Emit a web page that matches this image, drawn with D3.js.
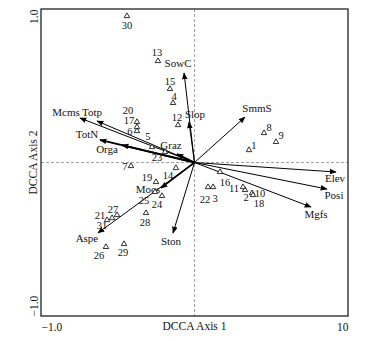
<!DOCTYPE html>
<html><head><meta charset="utf-8">
<script src="https://cdn.jsdelivr.net/npm/d3@7"></script>
<style>body{margin:0;background:#fff}svg{display:block}text{font-family:"Liberation Serif","Times New Roman",serif;fill:#111}</style>
</head><body><svg id="c" width="373" height="340" font-family="Liberation Serif"></svg>
<script>
// ---- data ----
const siteIds = ["1","2","3","4","5","6","7","8","9","10","11","12","13","14","15","16","17","18","19","20","21","22","23","24","25","26","27","28","29","30","31"];
const siteX = [0.355,0.329,0.121,-0.140,-0.277,-0.375,-0.414,0.453,0.531,0.375,0.316,-0.107,-0.238,-0.121,-0.160,0.166,-0.375,0.381,-0.251,-0.375,-0.537,0.088,-0.192,-0.212,-0.257,-0.577,-0.505,-0.316,-0.459,-0.440,-0.570];
const siteY = [0.081,-0.179,-0.160,0.388,0.101,0.205,-0.023,0.192,0.134,-0.199,-0.160,0.244,0.661,-0.036,0.479,-0.062,0.231,-0.212,-0.127,0.264,-0.362,-0.160,0.068,-0.218,-0.192,-0.550,-0.342,-0.329,-0.531,0.954,-0.375];
const envNames = ["Mcms","Totp","TotN","Orga","Graz","SowC","Slop","SmmS","Elev","Posi","Mgfs","Ston","Aspe","Mocs"];
const envX = [-0.746,-0.635,-0.616,-0.472,-0.114,-0.068,-0.036,0.329,0.922,0.863,0.759,-0.140,-0.629,-0.218];
const envY = [0.290,0.270,0.147,0.114,0.055,0.583,0.264,0.296,-0.062,-0.173,-0.290,-0.459,-0.459,-0.166];
const xTickValues = [-1, 1];
const xTickLabels = ["\u22121.0", "10"];
const yTickValues = [-1, 1];
const yTickLabels = ["\u22121.0", "1.0"];
const xTitle = "DCCA Axis 1";
const yTitle = "DCCA Axis 2";

// ---- layout (label nudges, px) ----
const siteLabelOff = [[5,-5],[1,7],[2,11],[1,-7],[-4,-11],[-7,0],[-6,0],[5,-6],[5,-7],[8,0],[-9,1],[-1,-8],[-1,-9],[-8,7],[0,-8],[5,10],[-8,-7],[6,8],[-9,-5],[-9,-12],[-12,-3],[-3,12],[-8,5],[-5,8],[-11,8],[-7,8],[-4,-6],[-1,9],[-1,8],[0,9],[-5,5]];
const envLabelOff = [[-14,-6],[-5,-9],[-13,-6],[-15,4],[-6,-9],[-6,-10],[6,-8],[12,-9],[-1,6],[7,6],[5,7],[-2,8],[-11,5],[-13,1.5]];
const envThick = [1,1,1.8,1.8,1.8,1,1,1,1,1,1,1,1,1.6];

const svg = d3.select("#c");
const L=41,R=348,T=9,B=316;
const x = d3.scaleLinear().domain([-1,1]).range([L,R]);
const y = d3.scaleLinear().domain([-1,1]).range([B,T]);

svg.append("defs").append("marker").attr("id","ah")
  .attr("viewBox","0 0 10 10").attr("refX",9).attr("refY",5)
  .attr("markerUnits","userSpaceOnUse").attr("markerWidth",7).attr("markerHeight",7)
  .attr("orient","auto")
  .append("path").attr("d","M0,1 L10,5 L0,9 Z").attr("fill","#000");

// dashed zero lines
svg.append("line").attr("x1",x(0)).attr("x2",x(0)).attr("y1",T).attr("y2",B)
  .attr("stroke","#888").attr("stroke-width",0.8).attr("stroke-dasharray","3,2");
svg.append("line").attr("x1",L).attr("x2",R).attr("y1",y(0)).attr("y2",y(0))
  .attr("stroke","#888").attr("stroke-width",0.8).attr("stroke-dasharray","3,2");

// frame
svg.append("rect").attr("x",L).attr("y",T).attr("width",R-L).attr("height",B-T)
  .attr("fill","none").attr("stroke","#222").attr("stroke-width",1.3);

// axes (labels only)
const ax = svg.append("g").attr("transform",`translate(0,${B})`)
  .call(d3.axisBottom(x).tickValues(xTickValues).tickSize(0).tickPadding(7)
    .tickFormat((d,i)=>xTickLabels[i]));
ax.attr("font-family",null);
ax.select(".domain").remove();
ax.selectAll("text").attr("font-size",11.5).attr("fill","#111")
  .attr("text-anchor",(d,i)=> i===0 ? "start":"end");

const ay = svg.append("g").attr("transform",`translate(${L},0)`)
  .call(d3.axisLeft(y).tickValues(yTickValues).tickSize(0).tickPadding(0)
    .tickFormat((d,i)=>yTickLabels[i]));
ay.attr("font-family",null);
ay.select(".domain").remove();
ay.selectAll("text").attr("font-size",11.5).attr("fill","#111")
  .attr("x",null).attr("dy",null)
  .attr("transform","translate(-3,0) rotate(-90)")
  .attr("text-anchor",(d,i)=> i===0 ? "start":"end");

svg.append("text").attr("x",x(0)).attr("y",B+14).attr("text-anchor","middle")
  .attr("font-size",11.5).text(xTitle);
svg.append("text").attr("transform",`translate(${L-4},${y(0)}) rotate(-90)`)
  .attr("text-anchor","middle").attr("font-size",11.5).text(yTitle);

// environmental arrows
const env = envNames.map((n,i)=>({n,x:envX[i],y:envY[i],o:envLabelOff[i],w:envThick[i]}));
svg.append("g").selectAll("line").data(env).join("line")
  .attr("x1",x(0)).attr("y1",y(0)).attr("x2",d=>x(d.x)).attr("y2",d=>y(d.y))
  .attr("stroke","#000").attr("stroke-width",d=>d.w).attr("marker-end","url(#ah)");
svg.append("g").selectAll("text").data(env).join("text")
  .attr("x",d=>x(d.x)+d.o[0]).attr("y",d=>y(d.y)+d.o[1]).attr("dy","0.35em")
  .attr("text-anchor","middle").attr("font-size",11).text(d=>d.n);

// sites
const sites = siteIds.map((id,i)=>({id,x:siteX[i],y:siteY[i],o:siteLabelOff[i]}));
const tri = d3.symbol().type(d3.symbolTriangle).size(13);
svg.append("g").selectAll("path").data(sites).join("path")
  .attr("d",tri).attr("transform",d=>`translate(${x(d.x)},${y(d.y)})`)
  .attr("fill","#fff").attr("stroke","#000").attr("stroke-width",0.8);
svg.append("g").selectAll("text").data(sites).join("text")
  .attr("x",d=>x(d.x)+d.o[0]).attr("y",d=>y(d.y)+d.o[1]).attr("dy","0.35em")
  .attr("text-anchor","middle").attr("font-size",10.5).text(d=>d.id);
</script></body></html>
